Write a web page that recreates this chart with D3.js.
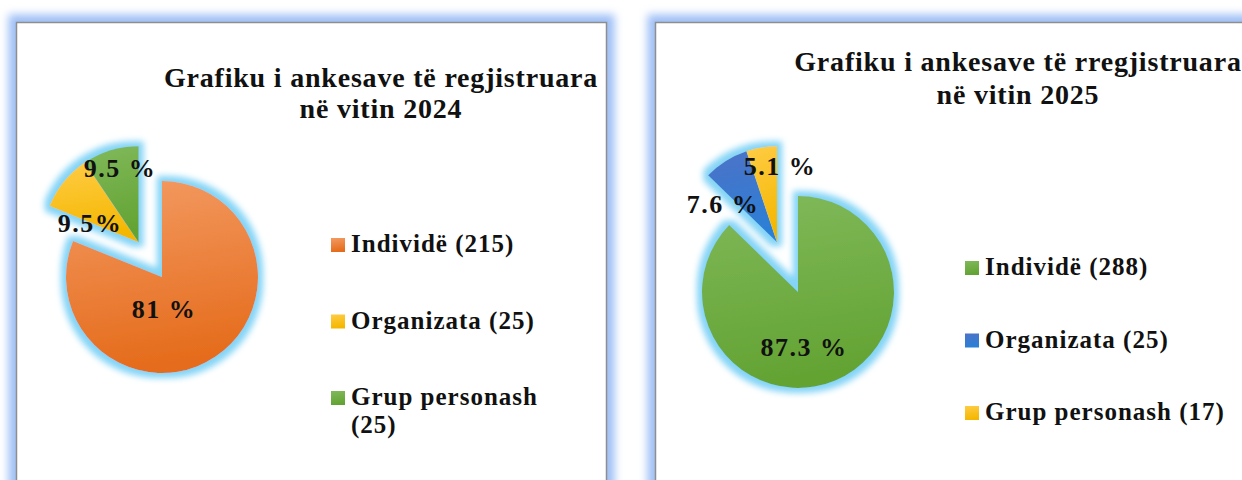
<!DOCTYPE html>
<html><head><meta charset="utf-8">
<script src="https://cdn.jsdelivr.net/npm/d3@7"></script>
<style>body{margin:0;background:#fff}svg{display:block}</style>
</head><body>
<svg id="c" width="1242" height="480"></svg>
<script>
// ---- data ----
const categories = ["Individë", "Organizata", "Grup personash"];
const values2024 = [215, 25, 25];
const labels2024 = ["81 %", "9.5%", "9.5 %"];
const values2025 = [288, 25, 17];
const labels2025 = ["87.3 %", "7.6 %", "5.1 %"];
const titles2024 = ["Grafiku i ankesave të regjistruara", "në vitin 2024"];
const titles2025 = ["Grafiku i ankesave të rregjistruara", "në vitin 2025"];
const legend2024 = [["Individë (215)"], ["Organizata (25)"], ["Grup personash", "(25)"]];
const legend2025 = [["Individë (288)"], ["Organizata (25)"], ["Grup personash (17)"]];

// ---- styles ----
const palettes = {
  orange: ["#f39a62", "#e56c1c"],
  yellow: ["#ffcc45", "#f4b700"],
  green:  ["#80b95a", "#63a333"],
  blue:   ["#4d72c7", "#2a80d6"]
};
const FONT = "'Liberation Serif','Times New Roman',serif";

const svg = d3.select("#c");
const defs = svg.append("defs");

// panel glow
const pf = defs.append("filter").attr("id", "panelGlow")
  .attr("x", "-10%").attr("y", "-10%").attr("width", "120%").attr("height", "120%");
pf.append("feGaussianBlur").attr("stdDeviation", 4.5);

// pie glow
const gf = defs.append("filter").attr("id", "pieGlow")
  .attr("x", "-30%").attr("y", "-30%").attr("width", "160%").attr("height", "160%");
gf.append("feMorphology").attr("in", "SourceAlpha").attr("operator", "dilate").attr("radius", 5).attr("result", "d");
gf.append("feGaussianBlur").attr("in", "d").attr("stdDeviation", 3.2).attr("result", "b");
gf.append("feFlood").attr("flood-color", "#84d4f6");
gf.append("feComposite").attr("in2", "b").attr("operator", "in").attr("result", "g");
const mg = gf.append("feMerge");
mg.append("feMergeNode").attr("in", "g");
mg.append("feMergeNode").attr("in", "SourceGraphic");

Object.entries(palettes).forEach(([k, [c1, c2]]) => {
  const lg = defs.append("linearGradient").attr("id", "g-" + k)
    .attr("x1", 0).attr("y1", 0).attr("x2", 0.15).attr("y2", 1);
  lg.append("stop").attr("offset", "0%").attr("stop-color", c1);
  lg.append("stop").attr("offset", "100%").attr("stop-color", c2);
});

function panel(x, y, w, h) {
  svg.append("rect").attr("x", x).attr("y", y).attr("width", w).attr("height", h)
    .attr("fill", "none").attr("stroke", "#9ebff6").attr("stroke-width", 16)
    .attr("filter", "url(#panelGlow)");
  svg.append("rect").attr("x", x).attr("y", y).attr("width", w).attr("height", h)
    .attr("fill", "#fff").attr("stroke", "#8e8e8e").attr("stroke-width", 1.5);
}

function chart(cfg) {
  panel(cfg.px, cfg.py, cfg.pw, cfg.ph);

  // title
  const t = svg.append("text").attr("font-family", FONT).attr("font-weight", "bold")
    .attr("font-size", 28).attr("letter-spacing", 0.8).attr("text-anchor", "middle").attr("fill", "#111");
  cfg.titles.forEach((line, i) => {
    t.append("tspan").attr("x", cfg.tx).attr("y", cfg.ty + i * cfg.tdy).text(line);
  });

  // pie
  const pie = d3.pie().sort(null).value(d => d)(cfg.values);
  const arc = d3.arc().innerRadius(0).outerRadius(cfg.r);
  const midGroup = (pie[1].startAngle + pie[2].endAngle) / 2;
  const g = svg.append("g").attr("transform", `translate(${cfg.cx},${cfg.cy})`);
  const sl = g.append("g").attr("filter", "url(#pieGlow)");
  sl.selectAll("path").data(pie).join("path")
    .attr("d", arc)
    .attr("fill", (d, i) => `url(#g-${cfg.colors[i]})`)
    .attr("transform", (d, i) => i === 0 ? null :
      `translate(${cfg.explode * Math.sin(midGroup)},${-cfg.explode * Math.cos(midGroup)})`);

  // labels
  g.selectAll("text.lab").data(pie).join("text").attr("class", "lab")
    .attr("x", (d, i) => cfg.labelPos[i][0]).attr("y", (d, i) => cfg.labelPos[i][1])
    .attr("text-anchor", "middle").attr("font-family", FONT).attr("font-weight", "bold")
    .attr("font-size", 26).attr("letter-spacing", 1.5).attr("fill", "#111")
    .text((d, i) => cfg.labels[i]);

  // legend
  cfg.legend.forEach((lines, i) => {
    const y = cfg.ly + i * cfg.ldy;
    svg.append("rect").attr("x", cfg.lx).attr("y", y - 14).attr("width", 14).attr("height", 14)
      .attr("fill", `url(#g-${cfg.colors[i]})`);
    const tx = svg.append("text").attr("font-family", FONT).attr("font-weight", "bold")
      .attr("font-size", 25).attr("letter-spacing", 1).attr("fill", "#111");
    lines.forEach((ln, j) => tx.append("tspan").attr("x", cfg.lx + 20).attr("y", y + j * 28).text(ln));
  });
}

chart({
  px: 16.5, py: 22.5, pw: 590, ph: 520,
  titles: titles2024, tx: 381, ty: 87, tdy: 31,
  values: values2024, labels: labels2024, colors: ["orange", "yellow", "green"],
  cx: 162, cy: 277, r: 96, explode: 42,
  labelPos: [[2, 41], [-72, -45], [-42, -100]],
  legend: legend2024, lx: 331, ly: 252, ldy: 76.5
});

chart({
  px: 655.5, py: 22.5, pw: 620, ph: 520,
  titles: titles2025, tx: 1018, ty: 71, tdy: 33,
  values: values2025, labels: labels2025, colors: ["green", "blue", "yellow"],
  cx: 798, cy: 292, r: 96, explode: 54,
  labelPos: [[6, 64], [-75, -79], [-18, -117]],
  legend: legend2025, lx: 965, ly: 275, ldy: 72.5
});
</script>
</body></html>
